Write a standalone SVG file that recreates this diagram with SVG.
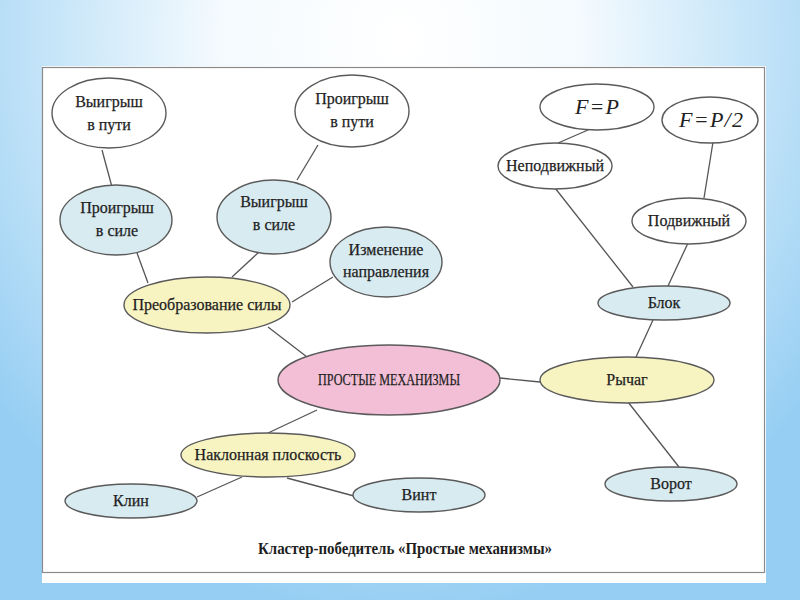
<svg xmlns="http://www.w3.org/2000/svg" width="800" height="600" viewBox="0 0 800 600">
<defs>
<radialGradient id="bg" cx="400" cy="40" r="520" gradientUnits="userSpaceOnUse" gradientTransform="translate(400 40) scale(1 1.1) translate(-400 -40)">
<stop offset="0" stop-color="#ffffff"/>
<stop offset="0.35" stop-color="#f4fafe"/>
<stop offset="0.7" stop-color="#c2e3f8"/>
<stop offset="1" stop-color="#96cef3"/>
</radialGradient>
<style>
.n{stroke:#5a5a5a;stroke-width:1.4}
.w{fill:#ffffff}
.b{fill:#d8ebf1}
.y{fill:#f8f4c2}
.p{fill:#f3bfd7}
.t{font-family:"Liberation Serif","DejaVu Serif",serif;font-size:16px;fill:#1f1f1f;text-anchor:middle;stroke:#1f1f1f;stroke-width:0.25}
.f{font-family:"Liberation Serif","DejaVu Serif",serif;font-style:italic;font-size:22px;fill:#222;text-anchor:middle}
.c{stroke:#555;stroke-width:1.3;fill:none}
</style>
</defs>
<rect x="0" y="0" width="800" height="600" fill="url(#bg)"/>
<rect x="42" y="66" width="724" height="517" fill="#ffffff"/>
<rect x="42.5" y="67.5" width="722" height="505" fill="none" stroke="#8a8a8a" stroke-width="1.2"/>
<g id="connectors">
<line class="c" x1="102" y1="150" x2="112" y2="187"/>
<line class="c" x1="318" y1="145" x2="297" y2="180"/>
<line class="c" x1="137" y1="253" x2="148" y2="283"/>
<line class="c" x1="259" y1="252" x2="232" y2="277"/>
<line class="c" x1="292" y1="302" x2="333" y2="277"/>
<line class="c" x1="268" y1="327" x2="307" y2="357"/>
<line class="c" x1="317" y1="410" x2="268" y2="433"/>
<line class="c" x1="242" y1="477" x2="197" y2="497"/>
<line class="c" x1="287" y1="478" x2="354" y2="496"/>
<line class="c" x1="500" y1="378" x2="540" y2="382"/>
<line class="c" x1="653" y1="320" x2="636" y2="357"/>
<line class="c" x1="628" y1="402" x2="679" y2="467"/>
<line class="c" x1="555" y1="188" x2="633" y2="287"/>
<line class="c" x1="688" y1="243" x2="668" y2="286"/>
<line class="c" x1="588" y1="130" x2="558" y2="143"/>
<line class="c" x1="713" y1="142" x2="704" y2="198"/>
</g>
<g id="vyigrysh-v-puti"><ellipse class="n w" cx="109" cy="113" rx="57" ry="35"/><text class="t" x="109" y="107">Выигрыш</text><text class="t" x="109" y="130">в пути</text></g>
<g id="proigrysh-v-puti"><ellipse class="n w" cx="352" cy="111" rx="57" ry="36"/><text class="t" x="352" y="104">Проигрыш</text><text class="t" x="352" y="127">в пути</text></g>
<g id="proigrysh-v-sile"><ellipse class="n b" cx="116" cy="220" rx="56" ry="35"/><text class="t" x="117" y="213">Проигрыш</text><text class="t" x="117" y="236">в силе</text></g>
<g id="vyigrysh-v-sile"><ellipse class="n b" cx="274" cy="217" rx="57" ry="37"/><text class="t" x="274" y="207">Выигрыш</text><text class="t" x="274" y="230">в силе</text></g>
<g id="izmenenie"><ellipse class="n b" cx="386" cy="262" rx="56" ry="35"/><text class="t" x="386" y="255">Изменение</text><text class="t" x="386" y="277">направления</text></g>
<g id="preobrazovanie"><ellipse class="n y" cx="207" cy="305" rx="83" ry="28"/><text class="t" x="207" y="310">Преобразование силы</text></g>
<g id="main"><ellipse class="n p" cx="389" cy="380" rx="111" ry="35"/><text class="t" x="389" y="385" font-size="15" textLength="142" lengthAdjust="spacingAndGlyphs">ПРОСТЫЕ МЕХАНИЗМЫ</text></g>
<g id="naklonnaya"><ellipse class="n y" cx="268" cy="455" rx="87" ry="22"/><text class="t" x="268" y="460">Наклонная плоскость</text></g>
<g id="klin"><ellipse class="n b" cx="131" cy="501" rx="66" ry="17"/><text class="t" x="131" y="506">Клин</text></g>
<g id="vint"><ellipse class="n b" cx="419" cy="495" rx="66" ry="17"/><text class="t" x="419" y="500">Винт</text></g>
<g id="rychag"><ellipse class="n y" cx="627" cy="380" rx="87" ry="23"/><text class="t" x="627" y="385">Рычаг</text></g>
<g id="blok"><ellipse class="n b" cx="664" cy="303" rx="66" ry="17"/><text class="t" x="664" y="308">Блок</text></g>
<g id="vorot"><ellipse class="n b" cx="671" cy="484" rx="66" ry="17"/><text class="t" x="671" y="489">Ворот</text></g>
<g id="nepodvizhny"><ellipse class="n w" cx="555" cy="166" rx="57" ry="23"/><text class="t" x="555" y="171" font-size="15">Неподвижный</text></g>
<g id="podvizhny"><ellipse class="n w" cx="689" cy="221" rx="57" ry="23"/><text class="t" x="689" y="226" font-size="15">Подвижный</text></g>
<g id="f-eq-p"><ellipse class="n w" cx="597" cy="107" rx="57" ry="23"/><text class="f" x="597" y="114" textLength="44" lengthAdjust="spacing">F = P</text></g>
<g id="f-eq-p2"><ellipse class="n w" cx="710" cy="120" rx="48" ry="23"/><text class="f" x="711" y="127" textLength="64" lengthAdjust="spacing">F = P / 2</text></g>
<text x="405" y="554" font-family="'Liberation Serif','DejaVu Serif',serif" font-weight="bold" font-size="16" fill="#1e1e1e" text-anchor="middle" textLength="294" lengthAdjust="spacingAndGlyphs">Кластер-победитель  «Простые механизмы»</text>
</svg>
